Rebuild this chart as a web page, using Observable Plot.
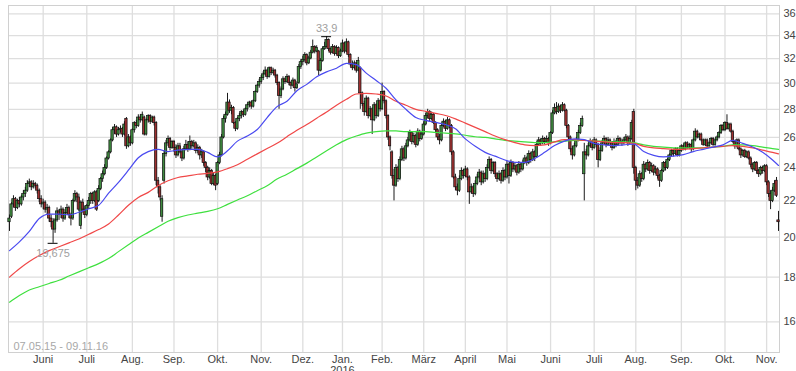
<!DOCTYPE html>
<html><head><meta charset="utf-8">
<script src="https://cdn.jsdelivr.net/npm/d3@7"></script>
<script src="https://cdn.jsdelivr.net/npm/@observablehq/plot@0.6"></script>
<style>html,body{margin:0;padding:0;background:#fff;}svg{display:block;}</style>
</head><body><div id="chart"></div>
<script>
// Month labels (first entry = partial month at start, unlabeled)
const monthLabels = ["Mai","Juni","Juli","Aug.","Sep.","Okt.","Nov.","Dez.","Jan.\n2016","Feb.","März","April","Mai","Juni","Juli","Aug.","Sep.","Okt.","Nov."];
const yTicks = [16,18,20,22,24,26,28,30,32,34,36];
const rangeLabel = "07.05.15 - 09.11.16";

// Daily candles [open, high, low, close] per month
const mai15 = [[20.8,21.2,20.3,21.0],[21.1,21.9,21.0,21.8],[21.8,22.3,21.6,22.1],[22.1,22.2,21.4,21.6],[21.6,22.1,21.5,22.0],[22.0,22.2,21.6,21.8],[21.8,22.3,21.7,22.2],[22.2,22.6,22.0,22.4],[22.4,22.8,22.2,22.6],[22.6,23.2,22.5,23.0],[23.0,23.3,22.8,23.1],[23.1,23.2,22.6,22.8],[22.8,23.2,22.7,23.0],[23.0,23.1,22.7,22.9],[22.9,23.0,22.4,22.6],[22.6,22.7,21.9,22.1],[22.1,22.3,21.6,21.8]];
const jun15 = [[21.8,22.1,21.5,21.9],[21.9,22.0,21.3,21.5],[21.5,21.8,21.2,21.6],[21.6,21.7,20.8,21.0],[21.0,21.2,20.5,20.8],[20.8,21.0,19.675,20.4],[20.4,21.0,20.2,20.9],[20.9,21.6,20.8,21.4],[21.4,21.5,20.9,21.2],[21.2,21.7,21.0,21.5],[21.5,21.6,20.8,21.0],[21.0,21.5,20.9,21.3],[21.3,21.8,21.2,21.6],[21.6,21.7,21.0,21.2],[21.2,21.3,20.6,21.0],[21.0,22.1,20.9,22.0],[22.0,22.6,21.9,22.4],[22.4,22.5,21.9,22.2],[22.2,22.4,21.4,21.5],[20.6,22.0,20.4,21.9],[21.9,22.1,21.3,21.5],[21.5,21.7,21.0,21.2]];
const jul15 = [[21.2,21.8,21.1,21.7],[21.7,22.2,21.5,22.0],[22.0,22.5,21.8,22.4],[22.4,22.5,21.8,22.0],[22.0,22.6,21.9,22.5],[22.5,22.6,21.4,21.5],[22.0,22.9,21.9,22.7],[22.7,23.4,22.6,23.3],[23.3,23.8,23.1,23.6],[23.6,24.2,23.5,24.0],[24.0,24.7,23.9,24.6],[24.6,25.1,24.5,25.0],[25.0,25.9,24.9,25.8],[25.8,26.7,25.7,26.5],[26.5,26.9,26.2,26.7],[26.7,26.8,26.0,26.2],[26.2,26.7,26.1,26.5],[26.5,26.8,26.3,26.6],[26.6,26.7,26.0,26.2],[26.2,27.1,26.1,26.9],[27.3,27.4,25.2,25.4],[25.4,26.2,25.3,26.0],[26.0,26.1,25.4,25.6]];
const aug15 = [[25.6,26.6,25.5,26.5],[26.5,27.1,26.3,27.0],[27.0,27.2,26.6,26.8],[26.8,27.6,26.7,27.4],[27.4,27.6,27.0,27.2],[27.2,27.8,27.1,27.6],[27.4,27.5,26.1,26.2],[26.2,27.3,26.1,27.2],[27.2,27.6,27.0,27.5],[27.5,27.6,26.9,27.1],[27.1,27.5,27.0,27.4],[27.4,27.5,26.8,27.0],[27.0,27.1,22.9,23.2],[23.2,23.4,22.4,22.8],[22.8,22.9,22.0,22.2],[21.1,22.3,20.8,22.1],[23.2,25.1,23.0,24.9],[24.9,25.8,24.7,25.6],[25.6,26.1,25.4,25.9],[25.9,26.0,25.1,25.3],[25.3,25.8,25.2,25.7]];
const sep15 = [[25.7,25.8,25.0,25.3],[25.3,25.5,24.6,24.8],[24.8,25.6,24.7,25.4],[25.4,25.6,24.9,25.0],[25.0,25.2,24.4,24.6],[24.6,25.4,24.5,25.2],[25.2,25.8,25.1,25.5],[25.5,25.7,25.0,25.2],[25.2,26.1,25.1,25.7],[25.7,25.8,25.2,25.4],[25.4,25.8,25.3,25.6],[25.6,25.7,24.9,25.1],[25.1,25.5,24.9,25.3],[25.3,25.4,24.5,24.8],[24.8,25.2,24.6,25.0],[25.0,25.1,24.1,24.3],[24.3,24.4,23.7,24.0],[24.0,24.1,23.2,23.4],[23.4,24.0,23.3,23.8],[23.8,23.9,22.9,23.0],[23.0,23.7,22.9,23.5],[23.5,23.6,22.6,22.9]];
const okt15 = [[23.0,24.4,22.9,24.3],[24.3,25.0,24.2,24.8],[24.8,26.2,24.7,26.0],[26.0,27.5,25.9,27.3],[27.3,27.8,27.0,27.6],[27.6,29.2,27.5,28.5],[28.5,28.7,27.7,27.9],[27.9,28.3,27.6,28.1],[28.1,28.2,26.9,27.0],[27.0,27.1,26.4,26.6],[26.6,27.4,26.5,27.3],[27.3,27.7,27.1,27.5],[27.5,27.9,27.3,27.8],[27.8,27.9,27.4,27.6],[27.6,28.1,27.5,28.0],[28.0,28.4,27.8,28.3],[28.3,28.6,28.1,28.5],[28.5,28.6,28.0,28.2],[28.2,28.7,28.1,28.6],[28.6,29.4,28.5,29.3],[29.3,29.9,29.2,29.8],[29.8,30.3,29.6,30.1]];
const nov15 = [[30.1,30.6,29.9,30.4],[30.4,30.9,30.2,30.7],[30.7,31.3,30.6,31.0],[31.0,31.1,30.3,30.5],[30.5,31.3,30.4,31.2],[31.2,31.3,30.6,30.8],[30.8,31.2,30.7,31.0],[31.0,31.1,30.4,30.6],[30.6,30.7,29.8,30.0],[30.0,30.1,28.0,29.0],[29.0,29.7,28.8,29.5],[29.5,30.5,29.4,30.3],[30.3,30.4,29.9,30.1],[30.1,30.7,30.0,30.5],[30.5,30.6,29.8,30.0],[30.0,30.1,29.5,29.8],[29.8,30.4,29.7,30.2],[30.2,30.3,29.3,29.6],[29.6,30.1,29.5,29.9],[30.0,31.5,29.9,31.3],[31.3,31.9,31.1,31.7]];
const dez15 = [[31.7,32.2,31.4,31.9],[31.9,32.5,31.7,32.3],[32.3,32.4,31.4,31.6],[31.6,32.2,31.5,32.0],[32.0,32.7,31.9,32.5],[32.5,33.6,32.4,33.0],[33.0,33.1,32.4,32.6],[32.6,33.1,32.5,32.9],[32.6,32.7,30.6,31.0],[31.0,32.0,30.9,31.8],[31.8,33.0,31.7,32.8],[32.8,33.4,32.7,33.0],[33.0,33.9,32.9,33.6],[33.6,33.7,32.6,32.8],[32.8,32.9,32.3,32.5],[32.5,33.2,32.4,33.0],[33.0,33.1,32.2,32.4],[32.4,33.1,32.3,32.9],[32.9,33.0,32.0,32.2],[32.2,32.8,32.1,32.6]];
const jan16 = [[32.6,33.6,32.5,33.3],[33.3,33.4,32.4,32.6],[32.6,33.7,32.5,33.4],[33.4,33.5,32.1,32.3],[32.3,32.4,31.3,31.5],[31.5,31.8,31.0,31.2],[31.2,31.8,31.1,31.6],[31.6,31.7,30.8,31.0],[31.0,32.1,30.9,31.8],[31.2,31.3,28.0,29.2],[29.2,29.3,28.2,28.4],[28.4,28.6,27.5,27.8],[27.8,29.0,27.7,28.8],[28.8,28.9,27.3,27.5],[27.5,28.2,27.4,28.0],[28.0,28.1,26.2,27.2],[27.2,28.5,27.1,28.3],[28.3,28.4,27.3,27.5],[27.5,28.8,27.4,28.6],[28.6,28.7,27.8,28.0]];
const feb16 = [[28.0,30.0,27.9,29.3],[29.3,29.4,28.4,28.6],[28.6,28.7,27.3,27.5],[27.5,27.6,25.8,26.0],[26.0,26.1,25.1,25.4],[25.0,25.1,23.3,23.5],[23.5,23.9,22.0,22.9],[22.9,24.2,22.8,24.0],[24.0,24.1,23.1,23.3],[23.3,24.7,23.2,24.5],[24.5,25.4,24.4,25.2],[25.2,25.3,24.4,24.6],[24.6,25.6,24.5,25.4],[25.4,26.0,25.3,25.8],[25.8,26.5,25.7,26.3],[26.3,26.4,25.5,25.7],[25.7,26.3,25.6,26.1],[26.1,26.2,25.3,25.5],[25.5,26.6,25.4,26.4],[26.4,26.5,25.7,25.9],[25.9,26.4,25.8,26.2]];
const mar16 = [[26.2,27.1,26.1,26.9],[26.9,27.7,26.8,27.5],[27.5,28.0,27.3,27.8],[27.8,27.9,27.1,27.3],[27.3,27.8,27.2,27.6],[27.6,27.7,26.9,27.0],[27.0,27.1,26.3,26.5],[26.5,26.6,25.8,26.0],[26.0,26.2,25.5,25.8],[25.8,27.0,25.7,26.8],[26.8,27.3,26.7,27.1],[27.1,27.2,26.4,26.6],[26.6,27.4,26.5,27.2],[27.2,27.3,26.6,26.8],[26.8,26.9,24.8,25.0],[25.0,25.1,23.3,23.4],[23.4,23.6,22.6,22.8],[22.8,23.0,22.3,22.6],[22.6,23.5,22.5,23.3],[23.3,24.0,23.2,23.8],[23.8,23.9,23.3,23.5]];
const apr16 = [[23.5,24.1,23.4,23.9],[23.9,24.0,23.2,23.4],[23.4,23.5,21.8,22.5],[22.5,23.0,22.4,22.8],[22.8,22.9,22.2,22.4],[22.4,23.2,22.3,23.0],[23.0,23.6,22.9,23.4],[23.4,23.9,23.3,23.7],[23.7,23.8,22.9,23.1],[23.1,23.8,23.0,23.6],[23.6,23.7,23.1,23.3],[23.3,24.2,23.2,24.0],[24.0,24.7,23.9,24.5],[24.5,24.6,23.6,23.8],[23.8,24.4,23.7,24.3],[24.3,24.4,23.4,23.6],[23.6,23.7,23.1,23.3],[23.3,23.8,23.2,23.6],[23.6,23.7,23.0,23.2],[23.2,24.0,23.1,23.8],[23.8,23.9,23.2,23.4]];
const mai16 = [[23.4,24.4,23.3,24.2],[24.2,24.3,23.0,23.5],[23.5,24.5,23.4,24.3],[24.3,24.4,23.7,23.9],[23.9,24.3,23.8,24.1],[24.1,24.2,23.5,23.7],[23.7,24.4,23.6,24.2],[24.2,24.3,23.7,23.9],[23.9,24.5,23.8,24.3],[24.3,24.8,24.2,24.6],[24.6,24.7,24.1,24.3],[24.3,25.1,24.2,24.9],[24.9,25.0,24.3,24.5],[24.5,25.2,24.4,25.0],[25.0,25.1,24.4,24.7],[24.7,25.7,24.6,25.5],[25.5,26.0,25.4,25.8],[25.8,25.9,25.4,25.6],[25.6,26.1,25.5,25.9],[25.9,26.0,25.5,25.7],[25.7,26.1,25.6,25.9],[25.9,26.0,25.4,25.6]];
const jun16 = [[25.6,26.4,25.5,26.3],[26.3,27.9,26.2,27.7],[27.7,28.4,27.6,28.1],[28.1,28.5,27.6,27.8],[27.8,28.4,27.7,28.2],[28.2,28.3,27.7,27.9],[27.9,28.5,27.8,28.3],[28.3,28.4,27.8,27.9],[27.9,28.0,26.6,26.8],[26.8,26.9,25.8,26.0],[26.0,26.1,25.0,25.2],[25.2,25.4,24.5,24.8],[24.8,25.6,24.7,25.4],[25.4,26.0,25.3,25.8],[25.8,26.5,25.7,26.3],[26.3,27.0,26.2,26.8],[26.8,27.5,26.7,27.3],[23.6,25.6,22.0,25.0],[25.0,25.2,24.5,24.8],[24.8,25.6,24.7,25.4],[25.4,25.9,25.3,25.7],[25.7,25.8,25.1,25.3]];
const jul16 = [[25.3,26.0,25.2,25.8],[25.8,25.9,25.3,25.5],[25.5,25.6,24.0,24.5],[24.5,25.3,24.4,25.1],[25.1,25.8,25.0,25.6],[25.6,26.1,25.5,25.9],[25.9,26.0,25.3,25.5],[25.5,26.0,25.4,25.8],[25.8,25.9,25.4,25.6],[25.6,25.7,25.1,25.3],[25.3,25.9,25.2,25.7],[25.7,25.8,25.3,25.5],[25.5,26.1,25.4,25.9],[25.9,26.0,25.5,25.7],[25.7,25.9,25.4,25.6],[25.6,26.0,25.5,25.8],[25.8,26.2,25.7,26.0],[26.0,26.1,25.4,25.6],[25.6,26.1,25.5,25.9],[25.9,27.2,25.8,27.0],[27.8,28.0,23.6,24.0]];
const aug16 = [[24.0,24.1,22.6,23.2],[23.2,23.4,22.7,22.9],[22.9,23.8,22.8,23.6],[23.6,23.7,23.1,23.3],[23.3,24.4,23.2,24.2],[24.2,24.3,23.7,23.9],[23.9,24.5,23.8,24.3],[24.3,24.4,23.6,23.8],[23.8,24.3,23.7,24.1],[24.1,24.2,23.5,23.7],[23.7,24.1,23.6,23.9],[23.9,24.0,23.3,23.5],[23.5,23.6,22.8,23.2],[23.2,23.9,23.1,23.8],[23.8,24.4,23.7,24.3],[24.3,24.4,23.8,24.0],[24.0,24.6,23.9,24.5],[24.5,24.9,24.4,24.8],[24.8,25.2,24.7,25.1],[25.1,25.2,24.7,24.9],[24.9,25.3,24.8,25.2],[25.2,25.3,24.7,24.8],[24.8,25.2,24.7,25.1]];
const sep16 = [[25.1,25.5,25.0,25.4],[25.4,25.5,25.1,25.2],[25.2,25.7,25.1,25.6],[25.6,25.7,25.2,25.3],[25.3,25.6,25.2,25.5],[25.5,25.6,25.0,25.2],[25.2,25.9,25.1,25.8],[25.8,26.6,25.7,26.4],[26.4,26.5,25.9,26.0],[26.0,26.3,25.9,26.2],[26.2,26.3,25.7,25.8],[25.8,25.9,25.4,25.5],[25.5,25.9,25.4,25.8],[25.8,25.9,25.3,25.4],[25.4,25.7,25.3,25.6],[25.6,26.0,25.5,25.9],[25.9,26.0,25.4,25.5],[25.5,25.9,25.4,25.8],[25.8,26.1,25.7,26.0],[26.0,26.4,25.9,26.3],[26.3,26.9,26.2,26.8],[26.8,26.9,26.4,26.5]];
const okt16 = [[26.5,27.1,26.4,27.0],[27.0,27.6,26.5,26.6],[26.6,27.0,26.5,26.9],[26.9,27.0,26.3,26.4],[26.4,26.5,25.6,25.7],[25.7,25.8,25.2,25.4],[25.4,25.9,25.3,25.8],[25.8,25.9,25.1,25.2],[25.2,25.3,24.6,24.8],[24.8,25.2,24.7,25.1],[25.1,25.2,24.6,24.7],[24.7,25.1,24.6,25.0],[25.0,25.1,24.5,24.6],[24.6,24.7,24.0,24.2],[24.2,24.3,23.7,23.9],[23.9,24.4,23.8,24.3],[24.3,24.4,23.6,23.8],[23.8,23.9,23.4,23.6],[23.6,24.1,23.5,24.0],[24.0,24.1,23.6,23.8],[23.8,24.2,23.7,24.1]];
const nov16 = [[24.1,24.2,22.9,23.1],[23.1,23.2,22.2,22.4],[22.4,22.6,21.5,22.0],[22.0,22.8,21.9,22.6],[22.6,23.2,22.5,23.0],[23.2,23.4,22.2,22.3],[20.9,21.4,20.3,20.8]];
const monthsData = [mai15,jun15,jul15,aug15,sep15,okt15,nov15,dez15,jan16,feb16,mar16,apr16,mai16,jun16,jul16,aug16,sep16,okt16,nov16];

// Moving averages, read at every 5th trading day
const maIdx = [0,5,10,15,20,25,30,35,40,45,50,55,60,65,70,75,80,85,90,95,100,105,110,115,120,125,130,135,140,145,150,155,160,165,170,175,180,185,190,195,200,205,210,215,220,225,230,235,240,245,250,255,260,265,270,275,280,285,290,295,300,305,310,315,320,325,330,335,340,345,350,355,360,365,370,375,380,385,388];
const maBlue = [19.3,19.75,20.3,21.0,21.25,21.25,21.2,21.35,21.55,21.75,22.45,23.1,23.85,24.65,25.05,25.2,25.05,25.15,25.2,25.2,25.0,24.7,25.1,25.75,26.1,26.55,27.4,28.2,28.6,29.4,29.9,30.5,30.9,31.2,31.6,31.5,30.8,30.2,29.6,28.7,28.0,27.4,27.2,27.05,26.9,26.6,25.9,25.4,25.0,24.75,24.5,24.35,24.35,24.6,25.0,25.45,25.75,25.9,25.85,25.6,25.5,25.45,25.5,25.55,25.05,24.8,24.7,24.75,24.85,25.05,25.2,25.35,25.5,25.8,25.6,25.35,25.0,24.5,24.15];
const maRed = [18.0,18.4,18.75,19.05,19.3,19.5,19.7,19.9,20.15,20.4,20.7,21.2,21.75,22.2,22.5,22.9,23.2,23.4,23.5,23.6,23.65,23.75,23.95,24.2,24.55,24.9,25.25,25.6,26.05,26.5,26.9,27.35,27.8,28.3,28.75,29.15,29.2,29.15,29.0,28.6,28.3,28.0,27.85,27.7,27.55,27.3,27.0,26.7,26.4,26.1,25.85,25.65,25.5,25.45,25.5,25.7,25.85,25.85,25.8,25.75,25.7,25.65,25.65,25.6,25.4,25.3,25.25,25.2,25.2,25.25,25.3,25.35,25.4,25.45,25.4,25.3,25.15,25.0,24.9];
const maGreen = [16.85,17.15,17.4,17.55,17.7,17.85,18.05,18.25,18.45,18.65,18.9,19.25,19.6,19.95,20.25,20.55,20.85,21.05,21.2,21.3,21.4,21.55,21.8,22.05,22.3,22.6,22.9,23.3,23.6,23.95,24.3,24.7,25.1,25.5,25.85,26.1,26.3,26.4,26.45,26.45,26.4,26.4,26.4,26.35,26.3,26.25,26.15,26.05,26.0,25.9,25.8,25.75,25.7,25.65,25.65,25.7,25.75,25.8,25.8,25.75,25.75,25.7,25.7,25.65,25.5,25.4,25.35,25.3,25.3,25.3,25.3,25.35,25.4,25.5,25.5,25.45,25.35,25.25,25.2];

// ---- build tables ----
const candles = [];
const tickIdx = [];
const tickLabel = new Map();
monthsData.forEach((m, k) => {
  if (k > 0) { tickIdx.push(candles.length); tickLabel.set(candles.length, monthLabels[k]); }
  m.forEach(([o, h, l, c]) => candles.push({i: candles.length, o, h, l, c}));
});
const N = candles.length;
const maRows = (vals) => maIdx.map((i, k) => ({i, v: vals[k]}));
const hiC = candles.reduce((a, b) => (b.h > a.h ? b : a));
const loC = candles.reduce((a, b) => (b.l < a.l ? b : a));
const de = (v) => String(v).replace(".", ",");

const chart = Plot.plot({
  width: 796, height: 371,
  marginLeft: 8, marginRight: 17, marginTop: 5, marginBottom: 19,
  style: {fontFamily: "'Liberation Sans', Arial, sans-serif", fontSize: "11px", color: "#444", background: "#fff"},
  x: {type: "linear", domain: [-0.5, N - 0.5], label: null},
  y: {type: "log", domain: [14.76, 36.8], label: null},
  marks: [
    Plot.gridY(yTicks, {stroke: "#dedede", strokeOpacity: 1, strokeWidth: 1.3}),
    Plot.gridX(tickIdx, {stroke: "#dedede", strokeOpacity: 1, strokeWidth: 1.3}),
    Plot.frame({stroke: "#d0d0d0"}),
    Plot.axisY(yTicks, {anchor: "right", tickSize: 0, tickPadding: 4, tickFormat: d => d, fill: "#444"}),
    Plot.axisX(tickIdx, {anchor: "bottom", tickSize: 0, tickPadding: 3, tickFormat: i => tickLabel.get(i), fill: "#444", lineAnchor: "top"}),
    Plot.ruleX(candles, {x: "i", y1: "l", y2: "h", stroke: "#1a1a1a", strokeWidth: 1}),
    Plot.rect(candles, {x1: d => d.i - 0.6, x2: d => d.i + 0.6, y1: "o", y2: "c",
      fill: d => d.c >= d.o ? "#3f8a3f" : "#9e3030", stroke: "#111", strokeWidth: 0.7}),
    Plot.line(maRows(maGreen), {x: "i", y: "v", stroke: "#3fe03f", strokeWidth: 1.2, curve: "monotone-x"}),
    Plot.line(maRows(maRed), {x: "i", y: "v", stroke: "#f04848", strokeWidth: 1.2, curve: "monotone-x"}),
    Plot.line(maRows(maBlue), {x: "i", y: "v", stroke: "#4a4af0", strokeWidth: 1.2, curve: "monotone-x"}),
    Plot.ruleY([hiC], {y: "h", x1: d => d.i - 2.5, x2: d => d.i + 2.5, stroke: "#000", strokeWidth: 1}),
    Plot.ruleY([loC], {y: "l", x1: d => d.i - 2.5, x2: d => d.i + 2.5, stroke: "#000", strokeWidth: 1}),
    Plot.text([hiC], {x: "i", y: "h", text: d => de(d.h), dy: -8, fill: "#a0a0a0", fontSize: 11}),
    Plot.text([loC], {x: "i", y: "l", text: d => de(d.l), dy: 10, fill: "#a0a0a0", fontSize: 11}),
    Plot.text([rangeLabel], {frameAnchor: "bottom-left", dx: 5, dy: -3, fill: "#a8a8a8", fontSize: 11})
  ]
});
document.getElementById("chart").appendChild(chart);
</script>
</body></html>
